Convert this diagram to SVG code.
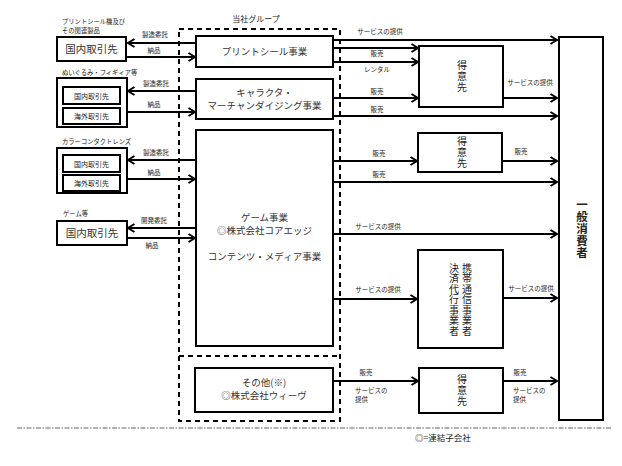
<svg xmlns="http://www.w3.org/2000/svg" width="622" height="466" viewBox="0 0 622 466">
<style>
text{font-family:"Noto Sans CJK JP","Noto Sans",sans-serif;fill:#222}
.box{fill:#fff;stroke:#000;stroke-width:2}
.dash{fill:none;stroke:#000;stroke-width:2;stroke-dasharray:5,4}
.ln{fill:none;stroke:#000;stroke-width:2}
.lbl{font-size:6.5px;text-anchor:middle}
.lbll{font-size:6.5px}
.cap{font-size:6.3px}
.t{font-size:9.5px;text-anchor:middle;fill:#333}
.tb{font-size:10.5px;text-anchor:middle;fill:#333}
.ts{font-size:7px;text-anchor:middle}
.v{font-size:10px;writing-mode:vertical-rl;letter-spacing:1px}
.vc{font-size:10px;writing-mode:vertical-rl;letter-spacing:0.5px}
.vb{font-size:11.5px;writing-mode:vertical-rl;letter-spacing:0.5px;font-weight:bold}
</style>
<defs>
<marker id="ah" markerUnits="userSpaceOnUse" markerWidth="10" markerHeight="10" refX="8" refY="5" orient="auto">
<path d="M1.5,1 L8,5 L1.5,9" fill="none" stroke="#000" stroke-width="2"/>
</marker>
</defs>

<g id="group-frame">
<text x="256" y="22" style="font-size:8px;text-anchor:middle">当社グループ</text>
<rect class="dash" x="179" y="29" width="161" height="392"/>
<line class="dash" x1="179" y1="356" x2="340" y2="356"/>
</g>

<g id="connectors">
<line class="ln" x1="196" y1="43" x2="128" y2="43" marker-end="url(#ah)"/>
<line class="ln" x1="127" y1="57" x2="195" y2="57" marker-end="url(#ah)"/>
<line class="ln" x1="196" y1="91" x2="128" y2="91" marker-end="url(#ah)"/>
<line class="ln" x1="127" y1="112" x2="195" y2="112" marker-end="url(#ah)"/>
<line class="ln" x1="196" y1="160" x2="128" y2="160" marker-end="url(#ah)"/>
<line class="ln" x1="127" y1="179" x2="195" y2="179" marker-end="url(#ah)"/>
<line class="ln" x1="196" y1="228" x2="128" y2="228" marker-end="url(#ah)"/>
<line class="ln" x1="127" y1="238" x2="195" y2="238" marker-end="url(#ah)"/>
<line class="ln" x1="333" y1="40" x2="557" y2="40" marker-end="url(#ah)"/>
<line class="ln" x1="333" y1="48" x2="418" y2="48" marker-end="url(#ah)"/>
<line class="ln" x1="333" y1="62" x2="418" y2="62" marker-end="url(#ah)"/>
<line class="ln" x1="503" y1="98" x2="557" y2="98" marker-end="url(#ah)"/>
<line class="ln" x1="333" y1="98" x2="418" y2="98" marker-end="url(#ah)"/>
<line class="ln" x1="333" y1="116" x2="557" y2="116" marker-end="url(#ah)"/>
<line class="ln" x1="333" y1="161" x2="417" y2="161" marker-end="url(#ah)"/>
<line class="ln" x1="502" y1="161" x2="557" y2="161" marker-end="url(#ah)"/>
<line class="ln" x1="333" y1="182" x2="557" y2="182" marker-end="url(#ah)"/>
<line class="ln" x1="333" y1="234" x2="557" y2="234" marker-end="url(#ah)"/>
<line class="ln" x1="333" y1="299" x2="417" y2="299" marker-end="url(#ah)"/>
<line class="ln" x1="503" y1="298" x2="557" y2="298" marker-end="url(#ah)"/>
<line class="ln" x1="333" y1="381" x2="418" y2="381" marker-end="url(#ah)"/>
<line class="ln" x1="503" y1="381" x2="557" y2="381" marker-end="url(#ah)"/>
<text class="lbl" x="155" y="37">製造委託</text>
<text class="lbl" x="154" y="53">納品</text>
<text class="lbl" x="156" y="86">製造委託</text>
<text class="lbl" x="154" y="107">納品</text>
<text class="lbl" x="156" y="155">製造委託</text>
<text class="lbl" x="154" y="175">納品</text>
<text class="lbl" x="154" y="222.5">開発委託</text>
<text class="lbl" x="152" y="247.5">納品</text>
<text class="lbl" x="380" y="34">サービスの提供</text>
<text class="lbl" x="377" y="56">販売</text>
<text class="lbl" x="377" y="72">レンタル</text>
<text class="lbl" x="530" y="85">サービスの提供</text>
<text class="lbl" x="377" y="94">販売</text>
<text class="lbl" x="377" y="112">販売</text>
<text class="lbl" x="379" y="156">販売</text>
<text class="lbl" x="521" y="154">販売</text>
<text class="lbl" x="379" y="177">販売</text>
<text class="lbl" x="378" y="229">サービスの提供</text>
<text class="lbl" x="378" y="292">サービスの提供</text>
<text class="lbl" x="531" y="291">サービスの提供</text>
<text class="lbl" x="366" y="375">販売</text>
<text class="lbll" x="355" y="393"><tspan x="355" y="393">サービスの</tspan><tspan x="355" y="402">提供</tspan></text>
<text class="lbl" x="520" y="375">販売</text>
<text class="lbll" x="513" y="393"><tspan x="513" y="393">サービスの</tspan><tspan x="513" y="402">提供</tspan></text>
</g>

<g id="partner-print">
<text class="cap" x="62" y="24"><tspan x="62" y="24">プリントシール機及び</tspan><tspan x="62" y="33">その関連製品</tspan></text>
<rect class="box" x="57" y="37" width="69" height="24"/>
<text class="tb" x="91.5" y="53">国内取引先</text>
</g>

<g id="partner-character">
<text class="cap" x="62" y="75">ぬいぐるみ・フィギィア等</text>
<rect class="box" x="57" y="78" width="70" height="49"/>
<rect class="box" x="63" y="87" width="57" height="17"/>
<text class="ts" x="91.5" y="98.5">国内取引先</text>
<rect class="box" x="63" y="108" width="57" height="16"/>
<text class="ts" x="91.5" y="119">海外取引先</text>
</g>

<g id="partner-contact">
<text class="cap" x="62" y="144">カラーコンタクトレンズ</text>
<rect class="box" x="57" y="148" width="70" height="45"/>
<rect class="box" x="63" y="155" width="57" height="17"/>
<text class="ts" x="91.5" y="166.5">国内取引先</text>
<rect class="box" x="63" y="175" width="57" height="16"/>
<text class="ts" x="91.5" y="186">海外取引先</text>
</g>

<g id="partner-game">
<text class="cap" x="63" y="216">ゲーム等</text>
<rect class="box" x="57" y="221" width="70" height="24"/>
<text class="tb" x="92" y="237">国内取引先</text>
</g>

<g id="biz-print">
<rect class="box" x="196" y="36" width="137" height="31"/>
<text class="t" x="264.5" y="55">プリントシール事業</text>
</g>

<g id="biz-character">
<rect class="box" x="196" y="79" width="137" height="40"/>
<text class="t" x="264.5" y="96"><tspan x="264.5" y="96">キャラクタ・</tspan><tspan x="264.5" y="109">マーチャンダイジング事業</tspan></text>
</g>

<g id="biz-game">
<rect class="box" x="196" y="130" width="137" height="216"/>
<text class="t" x="264.5" y="221"><tspan x="264.5" y="221">ゲーム事業</tspan><tspan x="264.5" y="234">◎株式会社コアエッジ</tspan><tspan x="264.5" y="260">コンテンツ・メディア事業</tspan></text>
</g>

<g id="biz-other">
<rect class="box" x="195" y="368" width="138" height="44"/>
<text class="t" x="264" y="385.5"><tspan x="264" y="385.5">その他(※)</tspan><tspan x="264" y="398.5">◎株式会社ウィーヴ</tspan></text>
</g>

<g id="customer-1">
<rect class="box" x="419" y="46" width="84" height="61"/>
<text class="v" x="462" y="60.5">得意先</text>
</g>

<g id="customer-2">
<rect class="box" x="418" y="133" width="84" height="39"/>
<text class="v" x="462" y="136.5">得意先</text>
</g>

<g id="carrier">
<rect class="box" x="418" y="250" width="85" height="98"/>
<text class="vc" x="467" y="263">携帯通信事業者</text>
<text class="vc" x="454" y="263">決済代行事業者</text>
</g>

<g id="customer-3">
<rect class="box" x="419" y="368" width="84" height="45"/>
<text class="v" x="462" y="374.5">得意先</text>
</g>

<g id="consumer">
<rect class="box" x="559" y="37" width="44" height="383"/>
<text class="vb" x="582" y="199">一般消費者</text>
</g>

<line x1="17" y1="428" x2="612" y2="428" stroke="#999" stroke-width="1.5" stroke-dasharray="5,1.5,1.5,1.5"/>
<text x="415" y="441" style="font-size:8.5px">◎=連結子会社</text>
</svg>
